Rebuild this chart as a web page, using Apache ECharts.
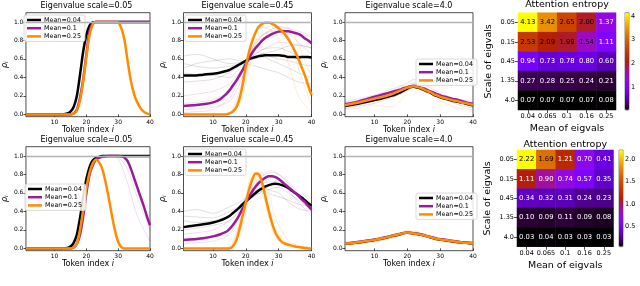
<!DOCTYPE html>
<html><head><meta charset="utf-8">
<script src="https://cdn.jsdelivr.net/npm/echarts@6/dist/echarts.min.js"></script>
<style>html,body{margin:0;padding:0;background:#fff}#c{width:640px;height:286px}</style>
</head><body><div id="c"></div>
<script>
// ---------- DATA ----------
const tokens = [1,4,7,10,12,14,15,16,17,18,19,20,21,22,23,24,25,26,27,28,29,30,31,32,33,34,35,36,37,38,39,40];
const runTokens = [1,5,10,15,18,20,22,25,28,30,33,36,40];
const meanLabels = ['Mean=0.04','Mean=0.1','Mean=0.25'];
const scaleTitles = ['Eigenvalue scale=0.05','Eigenvalue scale=0.45','Eigenvalue scale=4.0'];
const yTicks = [0,0.2,0.4,0.6,0.8,1.0];
const xTicks = [10,20,30,40];

// top row
const t1_black  = [0,0,0,0,0,0.01,0.03,0.08,0.2,0.43,0.68,0.86,0.96,0.995,1,1,1,1,1,1,1,1,1,1,1,1,1,1,1,1,1,1];
const t1_purple = [0,0,0,0,0,0,0,0.01,0.05,0.18,0.38,0.65,0.9,0.985,1,1,1,1,1,1,1,1,1,1,1,1,1,1,1,1,1,1];
const t1_orange = [0,0,0,0,0,0,0,0.01,0.04,0.15,0.36,0.62,0.86,0.97,1,1,1,1,1,1,1,0.995,0.93,0.8,0.57,0.36,0.22,0.13,0.07,0.03,0.01,0];
const t2_black  = [0.42,0.42,0.43,0.44,0.45,0.47,0.48,0.5,0.52,0.54,0.56,0.58,0.6,0.61,0.62,0.63,0.635,0.64,0.64,0.64,0.64,0.64,0.635,0.63,0.62,0.62,0.62,0.615,0.62,0.62,0.62,0.615];
const t2_purple = [0.09,0.1,0.11,0.13,0.16,0.22,0.26,0.31,0.36,0.42,0.48,0.55,0.61,0.67,0.72,0.76,0.8,0.83,0.85,0.87,0.885,0.895,0.9,0.9,0.9,0.89,0.88,0.87,0.85,0.82,0.8,0.77];
const t2_orange = [0,0,0,0,0,0,0.01,0.03,0.07,0.16,0.32,0.52,0.68,0.8,0.89,0.95,0.98,0.99,0.99,0.98,0.96,0.93,0.9,0.86,0.81,0.75,0.68,0.6,0.51,0.42,0.31,0.21];
const t3_black  = [0.09,0.11,0.13,0.155,0.17,0.19,0.2,0.21,0.225,0.24,0.26,0.28,0.295,0.3,0.29,0.28,0.265,0.25,0.235,0.215,0.2,0.185,0.175,0.165,0.155,0.145,0.14,0.13,0.125,0.115,0.105,0.1];
const t3_purple = [0.11,0.13,0.16,0.19,0.21,0.23,0.24,0.25,0.26,0.27,0.285,0.295,0.305,0.31,0.3,0.29,0.28,0.265,0.25,0.235,0.22,0.205,0.195,0.185,0.175,0.165,0.16,0.15,0.14,0.13,0.12,0.115];
const t3_orange = [0.1,0.12,0.145,0.17,0.185,0.205,0.215,0.23,0.245,0.26,0.275,0.29,0.3,0.305,0.295,0.285,0.27,0.255,0.24,0.22,0.205,0.19,0.18,0.17,0.16,0.15,0.145,0.135,0.125,0.12,0.11,0.105];
// bottom row
const b1_black  = [0,0,0,0,0,0.005,0.02,0.06,0.15,0.33,0.55,0.75,0.88,0.95,0.98,0.99,1,1,1,1,1,1,1,1,1,1,1,1,1,1,1,1];
const b1_purple = [0,0,0,0,0,0,0,0.01,0.05,0.15,0.35,0.6,0.8,0.9,0.96,0.98,0.99,0.995,1,1,1,1,0.995,0.98,0.94,0.86,0.76,0.66,0.56,0.46,0.35,0.25];
const b1_orange = [0,0,0,0,0,0,0,0.01,0.05,0.2,0.42,0.65,0.82,0.92,0.96,0.93,0.86,0.72,0.55,0.36,0.19,0.07,0.015,0,0,0,0,0,0,0,0,0];
const b2_black  = [0.23,0.245,0.26,0.28,0.3,0.33,0.35,0.38,0.41,0.44,0.48,0.51,0.54,0.57,0.6,0.63,0.65,0.67,0.685,0.695,0.7,0.695,0.685,0.67,0.65,0.625,0.6,0.575,0.55,0.52,0.49,0.46];
const b2_purple = [0.09,0.1,0.11,0.13,0.15,0.18,0.21,0.25,0.3,0.36,0.43,0.5,0.56,0.62,0.67,0.71,0.74,0.765,0.78,0.78,0.77,0.75,0.72,0.69,0.66,0.63,0.6,0.57,0.53,0.5,0.46,0.42];
const b2_orange = [0,0,0,0,0,0,0,0.02,0.08,0.2,0.35,0.5,0.64,0.75,0.81,0.8,0.7,0.55,0.4,0.27,0.17,0.11,0.07,0.05,0.04,0.03,0.02,0.015,0.01,0.005,0,0];
const b3_black  = [0.05,0.06,0.075,0.09,0.105,0.12,0.13,0.14,0.145,0.155,0.165,0.17,0.165,0.16,0.155,0.15,0.14,0.13,0.12,0.11,0.1,0.095,0.09,0.085,0.08,0.075,0.07,0.065,0.06,0.06,0.055,0.055];
const b3_purple = [0.055,0.065,0.08,0.095,0.11,0.125,0.135,0.145,0.15,0.16,0.168,0.172,0.168,0.163,0.158,0.152,0.143,0.133,0.124,0.115,0.105,0.1,0.095,0.09,0.085,0.08,0.075,0.07,0.066,0.063,0.06,0.058];
const b3_orange = [0.052,0.062,0.077,0.092,0.107,0.122,0.132,0.142,0.148,0.157,0.166,0.171,0.167,0.162,0.156,0.151,0.141,0.131,0.122,0.112,0.102,0.097,0.092,0.087,0.082,0.077,0.072,0.067,0.062,0.06,0.057,0.056];

// individual runs (faint lines), values at runTokens
const t2_runsGrey = [
  [0.63,0.65,0.6,0.55,0.56,0.58,0.6,0.62,0.58,0.55,0.5,0.45,0.4],
  [0.55,0.52,0.5,0.52,0.55,0.58,0.63,0.7,0.72,0.72,0.68,0.64,0.6],
  [0.35,0.36,0.38,0.45,0.52,0.58,0.62,0.65,0.68,0.7,0.74,0.75,0.72],
  [0.45,0.43,0.42,0.4,0.5,0.55,0.53,0.5,0.47,0.45,0.4,0.35,0.33],
  [0.5,0.55,0.58,0.6,0.58,0.57,0.6,0.66,0.62,0.6,0.58,0.55,0.52]];
const t2_runsPurple = [
  [0.02,0.03,0.05,0.18,0.38,0.55,0.7,0.85,0.92,0.95,0.93,0.9,0.85],
  [0.2,0.22,0.25,0.33,0.45,0.55,0.62,0.7,0.75,0.78,0.77,0.75,0.72],
  [0.05,0.06,0.08,0.14,0.32,0.5,0.72,0.86,0.9,0.92,0.88,0.78,0.65],
  [0.12,0.13,0.16,0.25,0.4,0.52,0.66,0.8,0.88,0.9,0.9,0.88,0.83]];
const t2_runsOrange = [
  [0,0,0,0.01,0.2,0.42,0.68,0.86,0.92,0.95,0.85,0.5,0.1],
  [0,0,0,0,0.12,0.35,0.62,0.82,0.88,0.9,0.94,0.75,0.4],
  [0,0,0,0.02,0.25,0.55,0.82,0.95,0.9,0.82,0.55,0.2,0.02],
  [0,0,0,0.01,0.18,0.45,0.72,0.9,0.96,0.95,0.82,0.6,0.28]];
const t3_runsGrey = [
  [0.06,0.09,0.12,0.18,0.22,0.26,0.33,0.27,0.22,0.18,0.14,0.1,0.07],
  [0.12,0.14,0.18,0.22,0.26,0.3,0.3,0.25,0.2,0.18,0.15,0.13,0.12]];
const t3_runsPurple = [
  [0.14,0.17,0.21,0.27,0.31,0.34,0.38,0.32,0.27,0.23,0.19,0.16,0.14],
  [0.08,0.1,0.15,0.2,0.24,0.27,0.3,0.28,0.22,0.2,0.17,0.12,0.09]];
const t3_runsOrange = [
  [0.05,0.07,0.1,0.08,0.15,0.25,0.3,0.28,0.2,0.15,0.1,0.07,0.05],
  [0.13,0.15,0.2,0.25,0.3,0.32,0.34,0.29,0.24,0.2,0.17,0.14,0.12]];
const b1_runsPurple = [
  [0,0,0,0,0.2,0.65,0.93,0.99,1,0.97,0.7,0.35,0.08],
  [0,0,0,0,0.12,0.55,0.9,0.99,1,0.99,0.85,0.55,0.2]];
const b2_runsGrey = [
  [0.4,0.42,0.38,0.45,0.5,0.55,0.6,0.62,0.58,0.56,0.52,0.48,0.45],
  [0.35,0.34,0.33,0.4,0.45,0.5,0.55,0.62,0.7,0.75,0.68,0.55,0.47],
  [0.2,0.22,0.25,0.3,0.42,0.55,0.6,0.65,0.62,0.6,0.5,0.43,0.4],
  [0.3,0.28,0.3,0.35,0.45,0.52,0.58,0.6,0.65,0.66,0.6,0.52,0.43]];
const b2_runsPurple = [
  [0.05,0.06,0.08,0.15,0.35,0.5,0.65,0.78,0.82,0.8,0.72,0.6,0.45],
  [0.15,0.17,0.2,0.3,0.4,0.5,0.6,0.7,0.72,0.72,0.62,0.5,0.35],
  [0.08,0.09,0.12,0.2,0.35,0.52,0.67,0.8,0.84,0.8,0.7,0.55,0.4]];
const b2_runsOrange = [
  [0,0,0,0.01,0.25,0.5,0.78,0.6,0.2,0.08,0.02,0,0],
  [0,0,0,0,0.15,0.4,0.68,0.82,0.45,0.25,0.08,0.03,0.01],
  [0,0,0,0.02,0.28,0.55,0.82,0.72,0.3,0.15,0.05,0.01,0]];
const b3_runsGrey = [[0.04,0.05,0.07,0.11,0.14,0.17,0.15,0.13,0.1,0.09,0.07,0.06,0.05]];
const b3_runsPurple = [[0.07,0.08,0.1,0.14,0.17,0.19,0.18,0.16,0.13,0.11,0.09,0.07,0.06]];
const b3_runsOrange = [
  [0.03,0.05,0.08,0.12,0.15,0.18,0.17,0.15,0.11,0.08,0.06,0.05,0.04],
  [0.06,0.07,0.09,0.13,0.16,0.16,0.19,0.15,0.12,0.1,0.08,0.07,0.06]];

// heatmaps
const eigMeans = ['0.04','0.065','0.1','0.16','0.25'];
const eigScales = ['0.05','0.15','0.45','1.35','4.0'];
const entropyTop = [
  [4.13,3.42,2.65,2.00,1.37],
  [2.53,2.09,1.99,1.54,1.11],
  [0.94,0.73,0.78,0.80,0.60],
  [0.27,0.28,0.25,0.24,0.21],
  [0.07,0.07,0.07,0.07,0.08]];
const entropyBottom = [
  [2.22,1.69,1.21,0.70,0.41],
  [1.11,0.90,0.74,0.57,0.35],
  [0.34,0.32,0.31,0.24,0.23],
  [0.10,0.09,0.11,0.09,0.08],
  [0.03,0.04,0.03,0.03,0.03]];
const cbTicksTop = [1,2,3,4];
const cbTicksBottom = [0.5,1.0,1.5,2.0];

// ---------- LAYOUT / STYLE ----------
const FONT = 'DejaVu Sans';
const COL = ['#000000','#9a1b9a','#ff8c00'];
const FAINT = ['rgba(0,0,0,0.16)','rgba(154,27,154,0.18)','rgba(255,140,0,0.22)'];
const rowTop = [12.7,146.7], lineLeft = [23,183.5,345], lineW = [127,128,128], lineH = 104;

const panelMeans = [
  [t1_black,t1_purple,t1_orange],[t2_black,t2_purple,t2_orange],[t3_black,t3_purple,t3_orange],
  [b1_black,b1_purple,b1_orange],[b2_black,b2_purple,b2_orange],[b3_black,b3_purple,b3_orange]];
const panelRuns = [
  [[],[],[]],[t2_runsGrey,t2_runsPurple,t2_runsOrange],[t3_runsGrey,t3_runsPurple,t3_runsOrange],
  [[],b1_runsPurple,[]],[b2_runsGrey,b2_runsPurple,b2_runsOrange],[b3_runsGrey,b3_runsPurple,b3_runsOrange]];
const legendPos = [{left:24,top:15},{left:185,top:15},{left:416,top:59},{left:25,top:184},{left:185,top:149},{left:416,top:193}];

const grids=[], xAxes=[], yAxes=[], series=[], legends=[], graphics=[];
const txt = (size)=>({fontSize:size, fontFamily:FONT, color:'#000'});

for (let p=0;p<6;p++){
  const r = Math.floor(p/3), c = p%3;
  grids.push({left:lineLeft[c], top:rowTop[r], width:lineW[c], height:lineH, show:true, borderColor:'#222', borderWidth:0.8, backgroundColor:'transparent'});
  xAxes.push({gridIndex:p, type:'value', min:1, max:40,
    name:'Token index {it|i}', nameLocation:'middle', nameGap:8,
    nameTextStyle:Object.assign(txt(8),{rich:{it:{fontStyle:'italic',fontSize:8,fontFamily:FONT,color:'#000'}}}),
    axisLine:{show:false}, splitLine:{show:false},
    axisTick:{show:true,length:2.5,lineStyle:{color:'#222',width:0.8},customValues:xTicks},
    axisLabel:Object.assign(txt(6),{margin:2.5,customValues:xTicks})});
  yAxes.push({gridIndex:p, type:'value', min:-0.025, max:1.1,
    name:'ρ{sub|i}', nameLocation:'middle', nameRotate:90, nameGap:14,
    nameTextStyle:Object.assign(txt(8),{fontStyle:'italic',rich:{sub:{fontStyle:'italic',fontSize:5.5,fontFamily:FONT,color:'#000',verticalAlign:'bottom',padding:[4,0,0,0]}}}),
    axisLine:{show:false}, splitLine:{show:false},
    axisTick:{show:true,length:2.5,lineStyle:{color:'#222',width:0.8},customValues:yTicks},
    axisLabel:Object.assign(txt(6),{margin:2.5,customValues:yTicks,formatter:v=>v.toFixed(1)})});
  // reference line at 1.0
  series.push({type:'line', xAxisIndex:p, yAxisIndex:p, data:[], silent:true,
    markLine:{silent:true, symbol:'none', label:{show:false}, lineStyle:{color:'#b4b4b4',width:1.4,type:'solid'}, data:[{yAxis:1}], animation:false}});
  for (let k=0;k<3;k++){
    panelRuns[p][k].forEach(run=>{
      series.push({type:'line', xAxisIndex:p, yAxisIndex:p, silent:true, symbol:'none', smooth:0.3,
        lineStyle:{width:0.8,color:FAINT[k]}, data:runTokens.map((t,i)=>[t,run[i]])});
    });
  }
  for (let k=0;k<3;k++){
    series.push({type:'line', name:meanLabels[k], xAxisIndex:p, yAxisIndex:p, symbol:'none', smooth:0.3,
      lineStyle:{width:2.5,color:COL[k]}, itemStyle:{color:COL[k]},
      data:tokens.map((t,i)=>[t,panelMeans[p][k][i]])});
  }
  legends.push({orient:'vertical', left:legendPos[p].left, top:legendPos[p].top, data:meanLabels,
    icon:'rect', itemWidth:14, itemHeight:2.5, itemGap:2.2, selectedMode:false,
    textStyle:Object.assign(txt(6.4),{padding:[0,0,0,-2]}),
    borderColor:'#d0d0d0', borderWidth:0.8, borderRadius:2, padding:[2,4,2,3], backgroundColor:'rgba(255,255,255,0.85)'});
  graphics.push({type:'text', x:lineLeft[c]+lineW[c]/2, y:r===0?6:140,
    style:{text:scaleTitles[c], fontSize:8, fontFamily:FONT, fill:'#000', align:'center', verticalAlign:'middle'}});
}

// gnuplot colormap
const gnuplot=[];
for(let i=0;i<=24;i++){const t=i/24;const rr=Math.sqrt(t),gg=t*t*t,bb=Math.max(0,Math.sin(2*Math.PI*t));
  gnuplot.push('rgb('+Math.round(rr*255)+','+Math.round(gg*255)+','+Math.round(bb*255)+')');}

const hm = [
  {vals:entropyTop, left:518, top:12.7, w:98, h:97.3, cbLeft:625, min:0.07, max:4.13, ticks:cbTicksTop, fmt:v=>String(v), title:5},
  {vals:entropyBottom, left:517, top:150, w:96.5, h:96.7, cbLeft:619, min:0.03, max:2.22, ticks:cbTicksBottom, fmt:v=>v.toFixed(1), title:144.5}];
const visualMaps=[];
hm.forEach((h,j)=>{
  const gi = grids.length;
  grids.push({left:h.left, top:h.top, width:h.w, height:h.h});
  xAxes.push({gridIndex:gi, type:'category', data:eigMeans, name:'Mean of eigvals', nameLocation:'middle', nameGap:14,
    nameTextStyle:txt(9.5), axisLine:{show:false}, splitLine:{show:false}, splitArea:{show:false},
    axisTick:{show:true,alignWithLabel:true,interval:0,length:3,lineStyle:{color:'#222',width:0.8}},
    axisLabel:Object.assign(txt(6.5),{margin:3,interval:0})});
  yAxes.push({gridIndex:gi, type:'category', data:eigScales, inverse:true, name:'Scale of eigvals', nameLocation:'middle', nameRotate:90, nameGap:24,
    nameTextStyle:txt(9.5), axisLine:{show:false}, splitLine:{show:false}, splitArea:{show:false},
    axisTick:{show:true,alignWithLabel:true,interval:0,length:3,lineStyle:{color:'#222',width:0.8}},
    axisLabel:Object.assign(txt(6.5),{margin:3,interval:0})});
  const data=[];
  h.vals.forEach((row,ri)=>row.forEach((v,ci)=>data.push({value:[ci,ri,v],label:{color:v>=1.45?'#000':'#fff'}})));
  const si = series.length;
  series.push({type:'heatmap', xAxisIndex:gi, yAxisIndex:gi, data:data, silent:true,
    label:{show:true, fontSize:6.8, fontFamily:FONT, formatter:p=>p.value[2].toFixed(2)},
    emphasis:{disabled:true}});
  visualMaps.push({type:'continuous', seriesIndex:si, min:h.min, max:h.max, inRange:{color:gnuplot},
    calculable:false, orient:'vertical', left:h.cbLeft, top:h.top, itemWidth:4, itemHeight:h.h, padding:0, text:null, hoverLink:false});
  // colorbar axis
  const ci = grids.length;
  grids.push({left:h.cbLeft, top:h.top, width:4, height:h.h, show:true, borderColor:'#222', borderWidth:0.5, backgroundColor:'transparent'});
  xAxes.push({gridIndex:ci, type:'value', show:false, min:0, max:1});
  yAxes.push({gridIndex:ci, type:'value', position:'right', min:h.min, max:h.max,
    axisLine:{show:false}, splitLine:{show:false},
    axisTick:{show:true,length:2.5,lineStyle:{color:'#222',width:0.8},customValues:h.ticks},
    axisLabel:Object.assign(txt(6.5),{margin:2,customValues:h.ticks,formatter:h.fmt})});
  graphics.push({type:'text', x:h.left+h.w/2, y:h.title,
    style:{text:'Attention entropy', fontSize:9.5, fontFamily:FONT, fill:'#000', align:'center', verticalAlign:'middle'}});
});

const chart = echarts.init(document.getElementById('c'));
chart.setOption({
  animation:false,
  textStyle:{fontFamily:FONT},
  grid:grids, xAxis:xAxes, yAxis:yAxes, series:series, legend:legends,
  visualMap:visualMaps, graphic:graphics
});
</script></body></html>
